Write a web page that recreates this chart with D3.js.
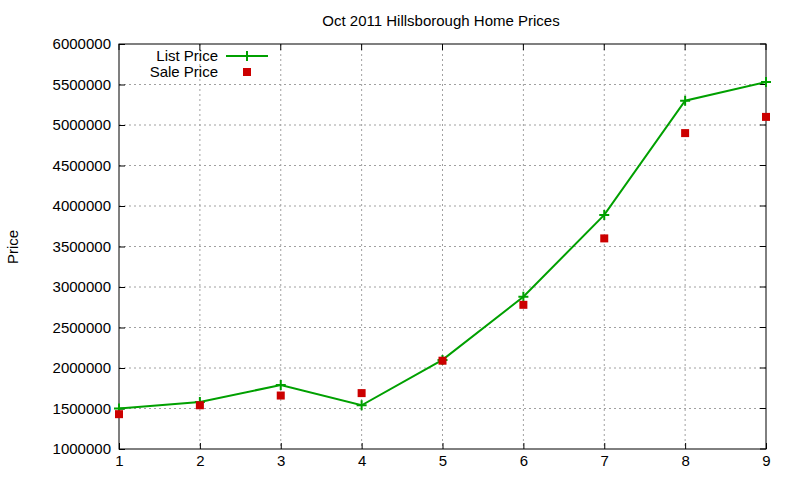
<!DOCTYPE html>
<html>
<head>
<meta charset="utf-8">
<script src="https://cdn.jsdelivr.net/npm/d3@7"></script>
<style>
  body { margin: 0; background: #fff; }
  text { font-family: "Liberation Sans", Arial, sans-serif; }
</style>
</head>
<body>
<svg id="chart" width="800" height="480"></svg>
<script>
// chart data
var months = [1, 2, 3, 4, 5, 6, 7, 8, 9];
var listPrice = [1500000, 1580000, 1790000, 1540000, 2100000, 2880000, 3890000, 5300000, 5530000];
var salePrice = [1430000, 1540000, 1660000, 1690000, 2090000, 2780000, 3600000, 4900000, 5100000];
var yTicks = [1000000, 1500000, 2000000, 2500000, 3000000, 3500000, 4000000, 4500000, 5000000, 5500000, 6000000];

var svg = d3.select("#chart");
var pLeft = 119, pRight = 766, pTop = 44, pBottom = 449;
var fs = 15;

var x = d3.scaleLinear().domain([1, 9]).range([pLeft, pRight]);
var y = d3.scaleLinear().domain([1000000, 6000000]).range([pBottom, pTop]);

// grid
svg.selectAll(".gx").data(months.slice(1, -1)).enter().append("line")
  .attr("x1", d => x(d)).attr("x2", d => x(d)).attr("y1", pTop).attr("y2", pBottom)
  .attr("stroke", "#a0a0a0").attr("stroke-dasharray", "2,3").attr("stroke-width", 1);
svg.selectAll(".gy").data(yTicks.slice(1, -1)).enter().append("line")
  .attr("x1", pLeft).attr("x2", pRight).attr("y1", d => y(d)).attr("y2", d => y(d))
  .attr("stroke", "#a0a0a0").attr("stroke-dasharray", "2,3").attr("stroke-width", 1);

// axes
var xAxis = d3.axisBottom(x).tickValues(months).tickSize(-6).tickPadding(6).tickFormat(d3.format("d"));
var yAxis = d3.axisLeft(y).tickValues(yTicks).tickSize(-6).tickPadding(8).tickFormat(d3.format("d"));
var gx = svg.append("g").attr("transform", "translate(0," + pBottom + ")").call(xAxis);
var gy = svg.append("g").attr("transform", "translate(" + pLeft + ",0)").call(yAxis);
[gx, gy].forEach(g => {
  g.select(".domain").remove();
  g.selectAll("line").attr("stroke", "#000");
  g.selectAll("text").attr("font-size", fs).attr("fill", "#000");
});
// top / right mirror ticks
svg.selectAll(".tx").data(months).enter().append("line")
  .attr("x1", d => x(d)).attr("x2", d => x(d)).attr("y1", pTop).attr("y2", pTop + 6).attr("stroke", "#000");
svg.selectAll(".ty").data(yTicks).enter().append("line")
  .attr("x1", pRight).attr("x2", pRight - 6).attr("y1", d => y(d)).attr("y2", d => y(d)).attr("stroke", "#000");

svg.append("rect").attr("x", pLeft).attr("y", pTop).attr("width", pRight - pLeft).attr("height", pBottom - pTop)
  .attr("fill", "none").attr("stroke", "#000");

// titles
svg.append("text").attr("x", 441).attr("y", 26).attr("text-anchor", "middle").attr("font-size", fs).text("Oct 2011 Hillsborough Home Prices");
svg.append("text").attr("transform", "translate(18,247) rotate(-90)").attr("text-anchor", "middle").attr("font-size", fs).text("Price");

// list price line
var green = "#00a000", red = "#cc0000";
var line = d3.line().x((d, i) => x(months[i])).y(d => y(d));
svg.append("path").datum(listPrice).attr("d", line).attr("fill", "none").attr("stroke", green).attr("stroke-width", 2);
function plus(g, cx, cy) {
  g.append("path").attr("d", "M" + (cx - 5) + "," + cy + "h10M" + cx + "," + (cy - 5) + "v10")
    .attr("stroke", green).attr("stroke-width", 2);
}
listPrice.forEach((v, i) => plus(svg, x(months[i]), y(v)));

// sale price points
svg.selectAll(".sale").data(salePrice).enter().append("rect")
  .attr("x", (d, i) => x(months[i]) - 4).attr("y", d => y(d) - 4)
  .attr("width", 8).attr("height", 8).attr("fill", red);

// legend
svg.append("text").attr("x", 218).attr("y", 61).attr("text-anchor", "end").attr("font-size", fs).text("List Price");
svg.append("line").attr("x1", 226).attr("x2", 268).attr("y1", 56).attr("y2", 56).attr("stroke", green).attr("stroke-width", 2);
plus(svg, 247, 56);
svg.append("text").attr("x", 218).attr("y", 77).attr("text-anchor", "end").attr("font-size", fs).text("Sale Price");
svg.append("rect").attr("x", 243).attr("y", 68).attr("width", 8).attr("height", 8).attr("fill", red);
</script>
</body>
</html>
